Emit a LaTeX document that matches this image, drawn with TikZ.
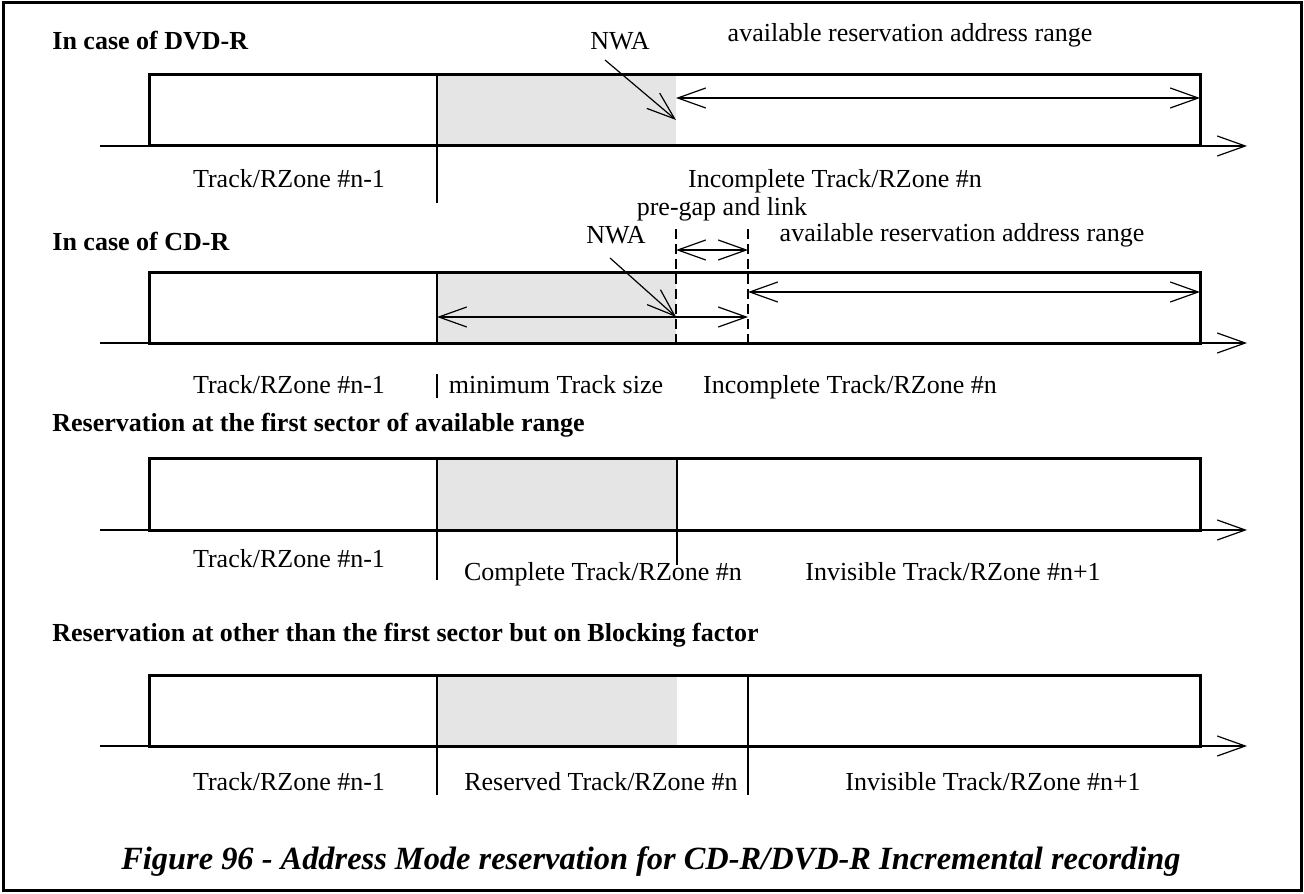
\documentclass[tikz,border=0pt]{standalone}
\usepackage{fontspec}
\setmainfont{Liberation Serif}
\usetikzlibrary{arrows.meta}

\tikzset{
  zone/.style={line width=1.5pt},
  divider/.style={line width=1.2pt},
  hairline/.style={line width=0.6pt},
  barb/.style={hairline, -{Straight Barb[length=14pt,width=10pt]}},
  span/.style={hairline, {Straight Barb[length=14pt,width=10pt]}-{Straight Barb[length=14pt,width=10pt]}},
  gapline/.style={line width=0.8pt, dash pattern=on 5pt off 2.5pt},
  lbl/.style={font=\fontsize{13}{15}\selectfont, inner sep=0pt, anchor=base},
  ttl/.style={font=\fontsize{13}{15}\selectfont\bfseries, anchor=base west, inner sep=0pt}
}

\begin{document}
\begin{tikzpicture}[x=0.5pt, y=-0.5pt]
% Define the custom color
  \definecolor{shadegrey}{RGB}{229,229,229}

  \useasboundingbox (0,0) rectangle (1304,893);
  \draw[line width=1.5pt] (3,3) rectangle (1301,890);

  % DVD-R
  \node[ttl] (dvdttl) at (52,50) {In case of DVD-R};
  \node[lbl] (dvdnwa) at (620,50) {NWA};
  \node[lbl] (dvdavail) at (910,42) {available reservation address range};
  \fill[shadegrey] (437,75) rectangle (676,146);
  \draw[zone] (149,75) rectangle (1200,146);
  \draw[divider] (437,75) -- (437,203);
  \coordinate (dvdaxa) at (100,146);
  \coordinate (dvdaxb) at (1247,146);
  \draw[barb] (dvdaxa) -- (dvdaxb);
  \coordinate (dvdnwafrom) at (605,60);
  \coordinate (dvdnwato) at (676,120);
  \draw[barb] (dvdnwafrom) -- (dvdnwato);
  \coordinate (dvdra) at (676,98);
  \coordinate (dvdrb) at (1200,98);
  \draw[span] (dvdra) -- (dvdrb);
  \node[lbl] (dvdprev) at (289,188) {Track/RZone \#n-1};
  \node[lbl] (dvdcur) at (835,188) {Incomplete Track/RZone \#n};

  % CD-R
  \node[ttl] (cdttl) at (52,250) {In case of CD-R};
  \node[lbl] (cdnwa) at (616,243) {NWA};
  \node[lbl] (cdgap) at (722,215) {pre-gap and link};
  \node[lbl] (cdavail) at (962,242) {available reservation address range};
  \fill[shadegrey] (437,272) rectangle (676,343);
  \draw[zone] (149,272) rectangle (1200,343);
  \draw[divider] (437,272) -- (437,343);
  \draw[hairline] (437,374) -- (437,398);
  \draw[gapline] (676,229) -- (676,343);
  \draw[gapline] (748,229) -- (748,343);
  \coordinate (cdaxa) at (100,343);
  \coordinate (cdaxb) at (1247,343);
  \draw[barb] (cdaxa) -- (cdaxb);
  \coordinate (cdga) at (676,250);
  \coordinate (cdgb) at (748,250);
  \draw[span] (cdga) -- (cdgb);
  \coordinate (cdma) at (437,317);
  \coordinate (cdmb) at (748,317);
  \draw[span] (cdma) -- (cdmb);
  \coordinate (cdra) at (748,292);
  \coordinate (cdrb) at (1200,292);
  \draw[span] (cdra) -- (cdrb);
  \coordinate (cdnwafrom) at (610,258);
  \coordinate (cdnwato) at (676,317);
  \draw[barb] (cdnwafrom) -- (cdnwato);
  \node[lbl] (cdprev) at (289,393) {Track/RZone \#n-1};
  \node[lbl] (cdmin) at (556,393) {minimum Track size};
  \node[lbl] (cdcur) at (850,393) {Incomplete Track/RZone \#n};

  % reservation at the first sector
  \node[ttl] (firstttl) at (52,431) {Reservation at the first sector of available range};
  \fill[shadegrey] (437,458) rectangle (677,530);
  \draw[zone] (149,458) rectangle (1200,530);
  \draw[divider] (437,458) -- (437,580);
  \draw[divider] (677,458) -- (677,565);
  \coordinate (firstaxa) at (100,530);
  \coordinate (firstaxb) at (1247,530);
  \draw[barb] (firstaxa) -- (firstaxb);
  \node[lbl] (firstprev) at (289,567) {Track/RZone \#n-1};
  \node[lbl] (firstcur) at (603,580) {Complete Track/RZone \#n};
  \node[lbl] (firstnext) at (953,580) {Invisible Track/RZone \#n+1};

  % reservation on blocking factor
  \node[ttl] (blockttl) at (52,641) {Reservation at other than the first sector but on Blocking factor};
  \fill[shadegrey] (437,675) rectangle (677,746);
  \draw[zone] (149,675) rectangle (1200,746);
  \draw[divider] (437,675) -- (437,795);
  \draw[divider] (748,675) -- (748,795);
  \coordinate (blockaxa) at (100,746);
  \coordinate (blockaxb) at (1247,746);
  \draw[barb] (blockaxa) -- (blockaxb);
  \node[lbl] (blockprev) at (289,790) {Track/RZone \#n-1};
  \node[lbl] (blockcur) at (601,790) {Reserved Track/RZone \#n};
  \node[lbl] (blocknext) at (993,790) {Invisible Track/RZone \#n+1};

  % caption
  \node[lbl, font=\fontsize{16.2}{19}\selectfont\bfseries\itshape] (caption) at (651,869)
    {Figure 96 - Address Mode reservation for CD-R/DVD-R Incremental recording};
\end{tikzpicture}
\end{document}
